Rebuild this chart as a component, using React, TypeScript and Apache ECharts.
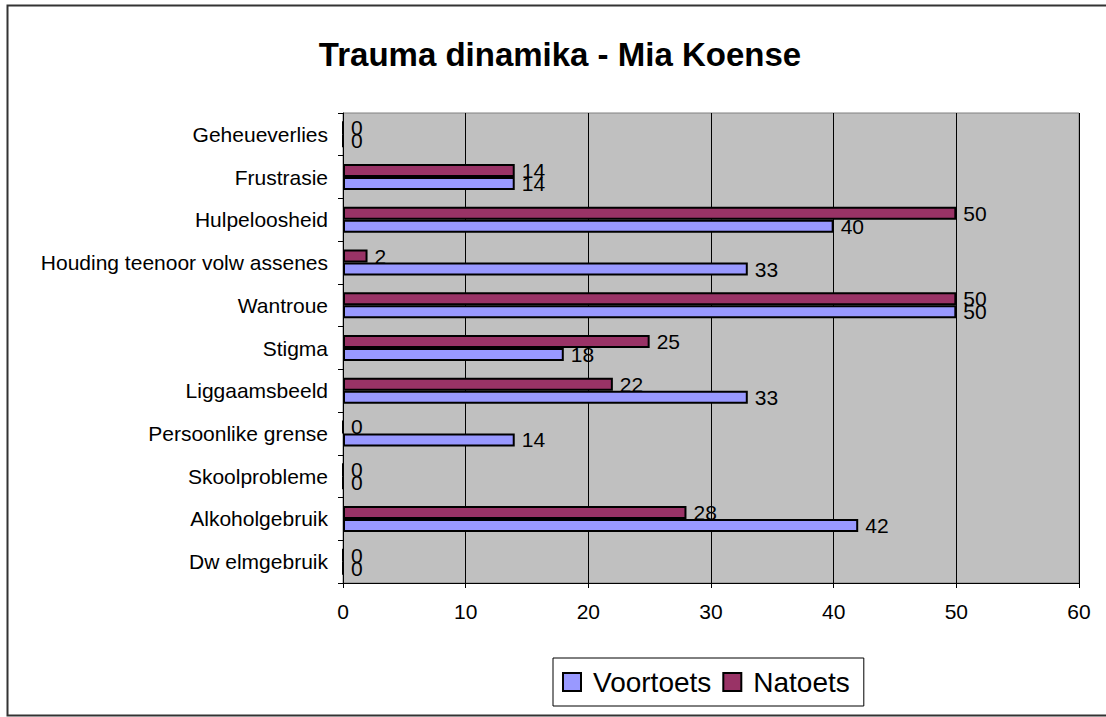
import React, { useEffect, useRef } from "react";
import * as echarts from "echarts";

const categories = [
  "Geheueverlies",
  "Frustrasie",
  "Hulpeloosheid",
  "Houding teenoor volw assenes",
  "Wantroue",
  "Stigma",
  "Liggaamsbeeld",
  "Persoonlike grense",
  "Skoolprobleme",
  "Alkoholgebruik",
  "Dw elmgebruik",
];
const voortoets = [0, 14, 40, 33, 50, 18, 33, 14, 0, 42, 0];
const natoets = [0, 14, 50, 2, 50, 25, 22, 0, 0, 28, 0];
const xTicks = { min: 0, max: 60, interval: 10 };

const FONT = "Liberation Sans, Arial, sans-serif";

export default function App() {
  const ref = useRef<HTMLDivElement>(null);
  useEffect(() => {
    document.body.style.margin = "0";
    const chart = echarts.init(ref.current!, null, { renderer: "svg" });
    const labelCfg = {
      show: true,
      position: "right",
      distance: 7,
      color: "#000",
      fontSize: 21,
      fontFamily: FONT,
    };
    chart.setOption({
      animation: false,
      backgroundColor: "#fff",
      textStyle: { fontFamily: FONT },
      title: {
        text: "Trauma dinamika - Mia Koense",
        left: 555,
        top: 33,
        textAlign: "center",
        textStyle: { fontSize: 33, fontWeight: "bold", color: "#000", fontFamily: FONT },
      },
      graphic: [
        {
          type: "rect",
          shape: { x: 7.5, y: 5.5, width: 1110, height: 710 },
          style: { fill: "none", stroke: "#333", lineWidth: 2 },
          silent: true,
          z: 100,
        },
      ],
      legend: {
        data: ["Voortoets", "Natoets"],
        left: 553,
        top: 658,
        orient: "horizontal",
        padding: [10, 14, 10, 9],
        itemWidth: 18,
        itemHeight: 18,
        itemGap: 11,
        icon: "rect",
        borderColor: "#000",
        borderWidth: 1,
        textStyle: { fontSize: 28, color: "#000", fontFamily: FONT, padding: [0, 0, 0, 7] },
      },
      grid: {
        left: 343,
        top: 113,
        width: 736,
        height: 470,
        show: true,
        backgroundColor: "#C0C0C0",
        borderColor: "#808080",
        borderWidth: 1,
      },
      xAxis: {
        type: "value",
        min: xTicks.min,
        max: xTicks.max,
        interval: xTicks.interval,
        axisLine: { show: true, lineStyle: { color: "#000", width: 1 } },
        axisTick: { show: true, length: 5, lineStyle: { color: "#000" } },
        axisLabel: { color: "#000", fontSize: 21, margin: 18, fontFamily: FONT },
        splitLine: { show: true, lineStyle: { color: "#000", width: 1 } },
      },
      yAxis: {
        type: "category",
        data: categories,
        inverse: true,
        axisLine: { show: true, lineStyle: { color: "#000", width: 1 } },
        axisTick: { show: true, length: 5, lineStyle: { color: "#000" } },
        axisLabel: { color: "#000", fontSize: 21, margin: 15, fontFamily: FONT },
        splitLine: { show: false },
      },
      series: [
        {
          name: "Natoets",
          type: "bar",
          data: natoets,
          barWidth: 13,
          barGap: "0%",
          itemStyle: { color: "#993366", borderColor: "#000", borderWidth: 2 },
          label: labelCfg,
        },
        {
          name: "Voortoets",
          type: "bar",
          data: voortoets,
          barWidth: 13,
          barGap: "0%",
          itemStyle: { color: "#9999FF", borderColor: "#000", borderWidth: 2 },
          label: labelCfg,
        },
      ],
    });
    return () => chart.dispose();
  }, []);
  return <div ref={ref} style={{ width: 1106, height: 717 }} />;
}
